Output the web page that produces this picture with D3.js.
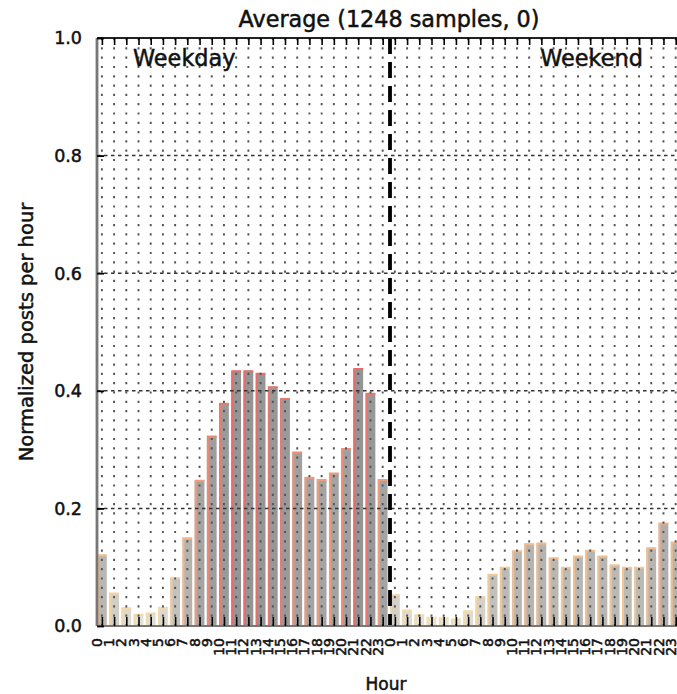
<!DOCTYPE html>
<html>
<head>
<meta charset="utf-8">
<script src="https://cdn.jsdelivr.net/npm/d3@7"></script>
<style>
  body { margin: 0; background: #fff; }
  text { font-family: "DejaVu Sans", sans-serif; fill: #111; stroke: #111; stroke-width: 0.5px; }
</style>
</head>
<body>
<svg id="chart"></svg>
<script>
// hour labels, shown once for weekday and once for weekend
const hourLabels = ["0","1","2","3","4","5","6","7","8","9","10","11",
  "12","13","14","15","16","17","18","19","20","21","22","23"];

// normalized posts per hour
const weekday = [0.121, 0.056, 0.031, 0.020, 0.022, 0.032, 0.082, 0.150,
  0.248, 0.323, 0.379, 0.434, 0.434, 0.430, 0.407, 0.387,
  0.296, 0.253, 0.249, 0.260, 0.302, 0.438, 0.396, 0.249];
const weekend = [0.053, 0.027, 0.019, 0.015, 0.014, 0.012, 0.026, 0.050,
  0.088, 0.100, 0.128, 0.140, 0.141, 0.116, 0.100, 0.119,
  0.129, 0.119, 0.104, 0.100, 0.100, 0.133, 0.175, 0.143];

const yTicks = [0.0, 0.2, 0.4, 0.6, 0.8, 1.0];
const title = "Average (1248 samples, 0)";

const width = 677, height = 694;
const margin = { top: 38, right: -6, bottom: 68, left: 97 };

const data = weekday.map((v, i) => ({ pos: i, label: hourLabels[i], value: v }))
  .concat(weekend.map((v, i) => ({ pos: 24 + i, label: hourLabels[i], value: v })));

const svg = d3.select("#chart").attr("width", width).attr("height", height);

const x = d3.scaleLinear().domain([0, 48]).range([margin.left, width - margin.right]);
const y = d3.scaleLinear().domain([0, 1]).range([height - margin.bottom, margin.top]);
const barW = x(0.8) - x(0);

// bar colours go from pale cream (low) to gray with a red rim (high)
const fillCol = d3.scaleLinear().domain([0, 0.1, 0.25, 0.44])
  .range(["#ebe8dc", "#bcbab5", "#a4a4a4", "#959595"]).clamp(true);
const edgeCol = d3.scaleLinear().domain([0, 0.12, 0.28, 0.44])
  .range(["#f4e2ae", "#f3c090", "#f19478", "#e86a6a"]).clamp(true);

const bars = svg.append("g")
  .selectAll("g")
  .data(data)
  .join("g");

bars.append("rect")
  .attr("x", d => x(d.pos))
  .attr("y", d => y(d.value))
  .attr("width", barW)
  .attr("height", d => y(0) - y(d.value))
  .attr("fill", d => fillCol(d.value));

// coloured rim on the left and top of each bar
bars.append("path")
  .attr("d", d => `M${x(d.pos) + 1},${y(0)}V${y(d.value) + 0.5}H${x(d.pos) + barW}`)
  .attr("fill", "none")
  .attr("stroke", d => edgeCol(d.value))
  .attr("stroke-width", 2);

// grid
const grid = svg.append("g");
grid.selectAll(".vg")
  .data(data)
  .join("line")
  .attr("x1", d => x(d.pos + 0.4)).attr("x2", d => x(d.pos + 0.4))
  .attr("y1", y(1)).attr("y2", y(0))
  .attr("stroke", "#555").attr("stroke-width", 1.9)
  .attr("stroke-dasharray", "2.2,7.1");
grid.selectAll(".hg")
  .data(yTicks.slice(1, -1))
  .join("line")
  .attr("x1", x(0)).attr("x2", x(48))
  .attr("y1", d => y(d)).attr("y2", d => y(d))
  .attr("stroke", "#333").attr("stroke-width", 1.5)
  .attr("stroke-dasharray", "3.5,3.5");

// weekday / weekend divider
svg.append("line")
  .attr("x1", x(24)).attr("x2", x(24))
  .attr("y1", y(1)).attr("y2", y(0))
  .attr("stroke", "#000").attr("stroke-width", 3.8)
  .attr("stroke-dasharray", "16,8");

// frame
svg.append("line").attr("x1", x(0)).attr("x2", x(0)).attr("y1", y(1)).attr("y2", y(0))
  .attr("stroke", "#777").attr("stroke-width", 2.8);
svg.append("line").attr("x1", x(0)).attr("x2", x(48)).attr("y1", y(0)).attr("y2", y(0))
  .attr("stroke", "#777").attr("stroke-width", 2);
svg.append("line").attr("x1", x(0)).attr("x2", x(48)).attr("y1", y(1)).attr("y2", y(1))
  .attr("stroke", "#222").attr("stroke-width", 2);

// x axes: inward ticks top and bottom, labels below
const xTickVals = data.map(d => d.pos + 0.4);

svg.append("g")
  .attr("transform", `translate(0,${y(1)})`)
  .call(d3.axisBottom(x).tickValues(xTickVals).tickSize(7).tickFormat(""))
  .call(g => g.select(".domain").remove())
  .call(g => g.selectAll(".tick line").attr("stroke-width", 1.6));

svg.append("g")
  .attr("transform", `translate(0,${y(0)})`)
  .call(d3.axisTop(x).tickValues(xTickVals).tickSize(9).tickFormat(""))
  .call(g => g.select(".domain").remove())
  .call(g => g.selectAll(".tick line").attr("stroke-width", 1.6));

svg.append("g")
  .selectAll("text")
  .data(data)
  .join("text")
  .attr("transform", d => `translate(${x(d.pos + 0.4) - 5},${y(0) + 12}) rotate(-90)`)
  .attr("text-anchor", "end")
  .attr("dy", "0.36em")
  .attr("font-size", 14)
  .text(d => d.label);

// y axis
svg.append("g")
  .attr("transform", `translate(${x(0)},0)`)
  .call(d3.axisRight(y).tickValues(yTicks).tickSize(7).tickFormat(""))
  .call(g => g.select(".domain").remove())
  .call(g => g.selectAll(".tick line").attr("stroke-width", 1.8));

svg.append("g")
  .selectAll("text")
  .data(yTicks)
  .join("text")
  .attr("x", x(0) - 15)
  .attr("y", d => y(d))
  .attr("dy", "0.36em")
  .attr("text-anchor", "end")
  .attr("font-size", 17.5)
  .text(d => d.toFixed(1));

// labels and title
svg.append("text")
  .attr("x", 389).attr("y", 27)
  .attr("text-anchor", "middle")
  .attr("font-size", 22.3)
  .text(title);

svg.append("text")
  .attr("transform", `translate(33,${(y(0) + y(1)) / 2}) rotate(-90)`)
  .attr("text-anchor", "middle")
  .attr("font-size", 19.5)
  .text("Normalized posts per hour");

svg.append("text")
  .attr("x", 386).attr("y", 690)
  .attr("text-anchor", "middle")
  .attr("font-size", 17)
  .text("Hour");

svg.append("text")
  .attr("x", x(2.95)).attr("y", y(0.952))
  .attr("font-size", 22.4)
  .text("Weekday");
svg.append("text")
  .attr("x", x(36.3)).attr("y", y(0.952))
  .attr("font-size", 22.4)
  .text("Weekend");
</script>
</body>
</html>
